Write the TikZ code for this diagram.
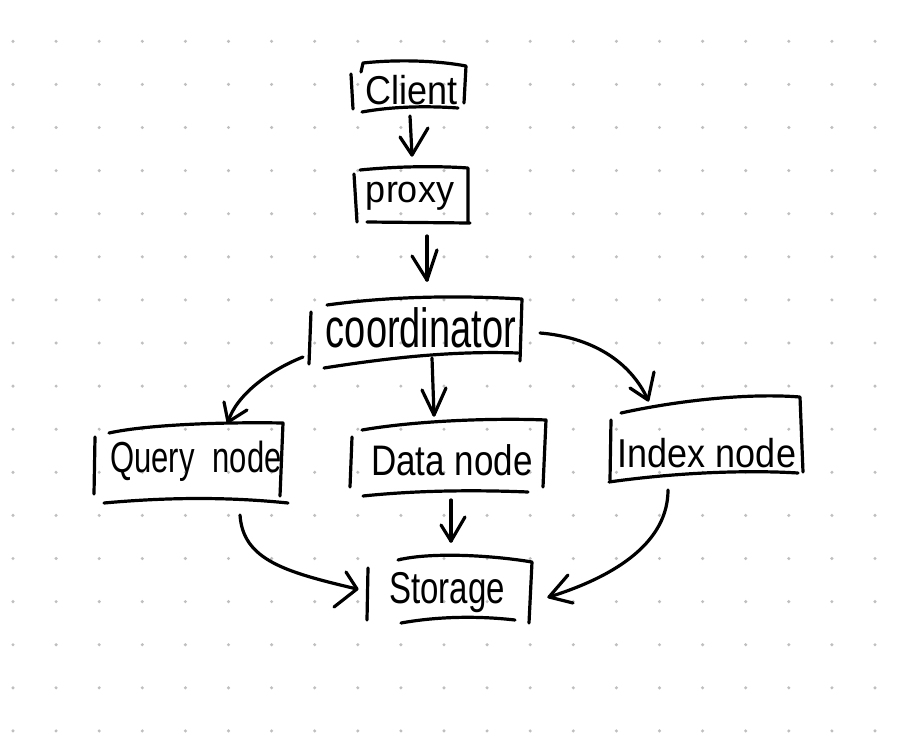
\documentclass[tikz,border=0pt]{standalone}
\usepackage{fontspec}
\setmainfont{Liberation Sans}
\newcommand\handsize[1]{\fontsize{#1}{#1}\selectfont}
\begin{document}
\begin{tikzpicture}[x=1pt,y=-1pt,
  pen/.style={line width=3.2pt,line cap=round,line join=round,black},
  label/.style={inner sep=0pt,anchor=base,text=black},
  griddot/.style={fill=black!25}]
\useasboundingbox (0,0) rectangle (906,745);
\fill[white] (0,0) rectangle (906,745);
% dotted paper
\foreach \i in {0,...,20}{
  \foreach \j in {-1,...,16}{
    \fill[griddot] ({13+43.1*\i},{41.3+43.1*\j}) circle (1.7pt);
  }
}
% texts
\node[label,font=\handsize{36}] (client) at (412,104) {\scalebox{1}[1.12]{Client}};
\node[label,font=\handsize{36}] (proxy) at (410,202) {\scalebox{1}[1.05]{proxy}};
\node[label,font=\handsize{38}] (coord) at (421,347) {\scalebox{1}[1.45]{coordinator}};
\node[label,font=\handsize{31}] (query) at (196,472) {\scalebox{1}[1.4]{Query\hspace{0.3em} node}};
\node[label,font=\handsize{35}] (data) at (452,475) {\scalebox{1}[1.22]{Data node}};
\node[label,font=\handsize{36}] (index) at (707,467) {\scalebox{1}[1.12]{Index node}};
\node[label,font=\handsize{33}] (storage) at (447,603) {\scalebox{1}[1.35]{Storage}};
% boxes (hand-drawn strokes)
% Client
\draw[pen] (361,72) -- (363,63) .. controls (400,59) and (440,61) .. (466,66) -- (464,103);
\draw[pen] (351,74) -- (353,109);
\draw[pen] (362,112) .. controls (395,106) and (430,106) .. (458,108);
% proxy
\draw[pen] (360,170) .. controls (400,166) and (440,166) .. (468,168) -- (468,222);
\draw[pen] (354,174) -- (357,222);
\draw[pen] (367,222) -- (470,223);
% coordinator
\draw[pen] (327,305) .. controls (400,295) and (470,296) .. (522,299) -- (520,361);
\draw[pen] (311,312) -- (309,364);
\draw[pen] (324,368) .. controls (400,356) and (460,351) .. (518,353);
% Query node
\draw[pen] (109,433) .. controls (150,424) and (230,422) .. (283,423) -- (280,496);
\draw[pen] (95,437) -- (94,494);
\draw[pen] (104,503) .. controls (170,497) and (230,497) .. (288,503);
% Data node
\draw[pen] (362,430) .. controls (420,420) and (500,418) .. (546,420) -- (543,487);
\draw[pen] (352,437) -- (350,487);
\draw[pen] (363,496) .. controls (420,490) and (480,490) .. (528,492);
% Index node
\draw[pen] (621,413) .. controls (680,400) and (750,393) .. (800,397) -- (803,472);
\draw[pen] (611,420) -- (610,480);
\draw[pen] (609,482) .. controls (680,472) and (750,470) .. (798,473);
% Storage
\draw[pen] (398,560) .. controls (430,552) and (490,555) .. (532,562) -- (529,623);
\draw[pen] (368,568) -- (367,620);
\draw[pen] (401,623) .. controls (440,616) and (480,616) .. (515,620);
% connector coordinates
\coordinate (a1s) at (410,116); \coordinate (a1t) at (412,155);
\coordinate (a1l) at (400,137); \coordinate (a1r) at (428,128);
\coordinate (a2s) at (427,236); \coordinate (a2t) at (427,280);
\coordinate (a2l) at (412,256); \coordinate (a2r) at (437,250);
\coordinate (a3s) at (432,358); \coordinate (a3t) at (434,415);
\coordinate (a3l) at (422,390); \coordinate (a3r) at (446,388);
\coordinate (a4s) at (303,357); \coordinate (a4t) at (228,422);
\coordinate (a4l) at (224,402); \coordinate (a4r) at (247,410);
\coordinate (a5s) at (540,333); \coordinate (a5t) at (648,400);
\coordinate (a5l) at (630,388); \coordinate (a5r) at (654,372);
\coordinate (a6s) at (451,500); \coordinate (a6t) at (451,541);
\coordinate (a6l) at (441,525); \coordinate (a6r) at (465,517);
\coordinate (a7s) at (240,515); \coordinate (a7t) at (357,589);
\coordinate (a7l) at (346,572); \coordinate (a7r) at (334,607);
\coordinate (a8s) at (668,490); \coordinate (a8t) at (549,597);
\coordinate (a8l) at (568,575); \coordinate (a8r) at (573,603);
% connectors
\draw[pen] (a1s) -- (a1t);
\draw[pen] (a1l) -- (a1t) -- (a1r);
\draw[pen] (a2s) -- (a2t);
\draw[pen] (a2l) -- (a2t) -- (a2r);
\draw[pen] (a3s) -- (a3t);
\draw[pen] (a3l) -- (a3t) -- (a3r);
\draw[pen] (a4s) .. controls (270,370) and (236,395) .. (a4t);
\draw[pen] (a4l) -- (a4t) -- (a4r);
\draw[pen] (a5s) .. controls (590,337) and (630,360) .. (a5t);
\draw[pen] (a5l) -- (a5t) -- (a5r);
\draw[pen] (a6s) -- (a6t);
\draw[pen] (a6l) -- (a6t) -- (a6r);
\draw[pen] (a7s) .. controls (243,560) and (285,572) .. (a7t);
\draw[pen] (a7l) -- (a7t) -- (a7r);
\draw[pen] (a8s) .. controls (668,540) and (620,575) .. (a8t);
\draw[pen] (a8l) -- (a8t) -- (a8r);
\end{tikzpicture}
\end{document}
